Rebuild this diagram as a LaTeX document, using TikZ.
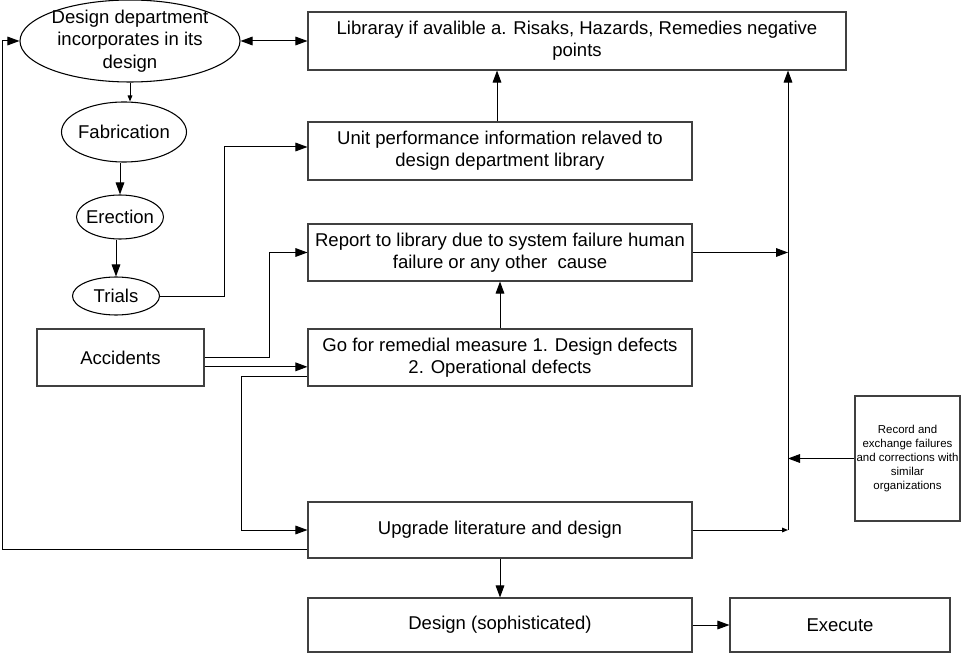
\documentclass[tikz,border=0pt]{standalone}
\usepackage{fontspec}
\setmainfont{Liberation Sans}
\usetikzlibrary{arrows.meta,shapes.geometric}
\begin{document}
\begin{tikzpicture}[x=0.75pt,y=-0.75pt,
  every node/.style={font=\fontsize{13.9pt}{16.8pt}\selectfont},
  box/.style={draw=black!75, line width=0.8pt, rectangle, inner sep=0pt, align=center},
  oval/.style={draw=black, line width=0.8pt, ellipse, inner sep=0pt},
  conn/.style={draw=black, line width=0.75pt},
  arrowline/.style={conn, -{Triangle[length=9pt,width=6.5pt]}},
  smallarrow/.style={conn, -{Triangle[length=4.5pt,width=3.5pt]}},
  twoarrow/.style={conn, {Triangle[length=9pt,width=6.5pt]}-{Triangle[length=9pt,width=6.5pt]}}]
\useasboundingbox (0,0) rectangle (961,656);
% ellipses
\node[oval, minimum width=165pt, minimum height=61.5pt, label={[align=center]center:Design department\\incorporates in its\\design}] (dd) at (130,41) {};
\node[oval, minimum width=93.75pt, minimum height=45pt, label=center:Fabrication] (fab) at (124,132) {};
\node[oval, minimum width=65.25pt, minimum height=33pt, label=center:Erection] (erec) at (120,217) {};
\node[oval, minimum width=65.25pt, minimum height=28.5pt, label=center:Trials] (trials) at (116,296) {};
% boxes
\node[box, minimum width=403.5pt, minimum height=43.5pt] (lib) at (577,41) {Libraray if avalible a. Risaks, Hazards, Remedies negative\\points};
\node[box, minimum width=288pt, minimum height=43.5pt] (unit) at (500,151) {Unit performance information relaved to\\design department library};
\node[box, minimum width=288pt, minimum height=42.75pt] (rep) at (500,252.5) {Report to library due to system failure human\\failure or any other\ \ cause};
\node[box, minimum width=288pt, minimum height=42.75pt] (rem) at (500,357.5) {Go for remedial measure 1. Design defects\\2. Operational defects};
\node[box, minimum width=288pt, minimum height=42pt] (up) at (500,530) {Upgrade literature and design};
\node[box, minimum width=288pt, minimum height=40.5pt] (des) at (500,625) {Design (sophisticated)};
\node[box, minimum width=165pt, minimum height=40.5pt] (exe) at (840,625) {Execute};
\node[box, minimum width=125.25pt, minimum height=42.75pt] (acc) at (120.5,357.5) {Accidents};
\node[box, minimum width=78.75pt, minimum height=93.75pt, font=\fontsize{8.6pt}{10.4pt}\selectfont] (rec) at (907.5,458.5) {Record and\\exchange failures\\and corrections with\\similar\\organizations};
% helper coordinates
\coordinate (t1) at (224,300);
\coordinate (a1) at (269,358);
\coordinate (a2) at (241,377);
\coordinate (a3) at (2,549);
\coordinate (bus) at (788,530);
% connectors
\draw[twoarrow] (dd.east) -- (lib.west);
\draw[smallarrow] (dd.south) -- (dd.south |- fab.north);
\draw[arrowline] (erec.north |- fab.south) -- (erec.north);
\draw[arrowline] (trials.north |- erec.south) -- (trials.north);
\draw[arrowline] (trials.east) -- (trials.east -| t1) |- ([yshift=3pt]unit.west);
\draw[arrowline] (acc.east) -| (a1 |- rep.west) -- (rep.west);
\draw[arrowline] ([yshift=-7pt]acc.east) -- ([yshift=-7pt]acc.east -| rem.west);
\draw[arrowline] ([yshift=-14.6pt]rem.west) -| (a2 |- up.west) -- (up.west);
\draw[arrowline] ([yshift=-14.25pt]up.west) -| (a3 |- dd.west) -- (dd.west);
\draw[arrowline] ([xshift=-2.25pt]unit.north) -- ([xshift=-2.25pt]unit.north |- lib.south);
\draw[arrowline] (rem.north) -- (rep.south);
\draw[arrowline] (bus) -- (bus |- lib.south);
\draw[arrowline] (rep.east) -- (rep.east -| bus);
\draw[arrowline] (rec.west) -- (rec.west -| bus);
\draw[smallarrow] (up.east) -- (bus);
\draw[arrowline] (up.south) -- (des.north);
\draw[arrowline] (des.east) -- (exe.west);
\end{tikzpicture}
\end{document}
